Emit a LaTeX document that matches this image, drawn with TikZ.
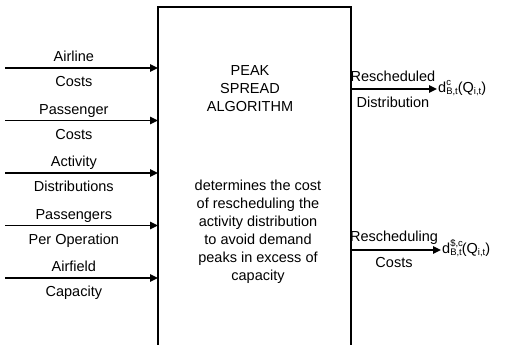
\documentclass[tikz,border=0pt]{standalone}
\usepackage{amsmath}
\usepackage{fontspec}
\setmainfont{Liberation Sans}
\usetikzlibrary{arrows.meta, positioning}
\tikzstyle{etiquette} = [font = \fontsize{14.5}{18}\selectfont, inner sep = 1pt, text height = 10.5pt, text depth = 3.5pt]
\tikzstyle{bloc} = [font = \fontsize{14.5}{18}\selectfont, inner sep = 0pt, align = center]
\tikzstyle{fleche} = [line width = 1.6pt, -{Triangle[length = 8pt, width = 7.5pt]}]
\newcommand{\indices}[2]{\rlap{\raisebox{7.5pt}{\fontsize{9.5}{10}\selectfont #1}}\raisebox{-2pt}{\fontsize{9.5}{10}\selectfont #2}}

\begin{document}
\begin{tikzpicture}[x = 1pt, y = -1pt]
\useasboundingbox (0,0) rectangle (512,345);

% la boite
\coordinate (bg) at (158,345);
\coordinate (hg) at (158,7);
\coordinate (hd) at (351,7);
\coordinate (bd) at (351,345);
\draw[line width = 1.6pt] (bg) -- (hg) -- (hd) -- (bd);

\node (titre) [bloc] at (250,89) {PEAK\\SPREAD\\ALGORITHM};
\node (texte) [bloc] at (258,232) {determines the cost\\of rescheduling the\\activity distribution\\to avoid demand\\peaks in excess of\\capacity};

% entrees
\coordinate (e1) at (5,68);
\coordinate (e2) at (5,120.5);
\coordinate (e3) at (5,173);
\coordinate (e4) at (5,225.5);
\coordinate (e5) at (5,278);

\draw[fleche] (e1) -- (e1 -| hg) coordinate[pos = 0.45] (m1);
\draw[fleche] (e2) -- (e2 -| hg) coordinate[pos = 0.45] (m2);
\draw[fleche] (e3) -- (e3 -| hg) coordinate[pos = 0.45] (m3);
\draw[fleche] (e4) -- (e4 -| hg) coordinate[pos = 0.45] (m4);
\draw[fleche] (e5) -- (e5 -| hg) coordinate[pos = 0.45] (m5);

\node (e1h) [etiquette, above = 1.5pt of m1] {Airline};
\node (e1b) [etiquette, below = 7pt of m1] {Costs};
\node (e2h) [etiquette, above = 1.5pt of m2] {Passenger};
\node (e2b) [etiquette, below = 7pt of m2] {Costs};
\node (e3h) [etiquette, above = 1.5pt of m3] {Activity};
\node (e3b) [etiquette, below = 7pt of m3] {Distributions};
\node (e4h) [etiquette, above = 1.5pt of m4] {Passengers};
\node (e4b) [etiquette, below = 7pt of m4] {Per Operation};
\node (e5h) [etiquette, above = 1.5pt of m5] {Airfield};
\node (e5b) [etiquette, below = 7pt of m5] {Capacity};

% sorties
\coordinate (s1) at (437,89);
\coordinate (s2) at (441,250);
\coordinate (n1) at (393,89);
\coordinate (n2) at (394,250);

\draw[fleche] (s1 -| hd) -- (s1);
\draw[fleche] (s2 -| hd) -- (s2);

\node (s1h) [etiquette, above = 3pt of n1] {Rescheduled};
\node (s1b) [etiquette, below = 7pt of n1] {Distribution};
\node (s2h) [etiquette, above = 4pt of n2] {Rescheduling};
\node (s2b) [etiquette, below = 6pt of n2] {Costs};

\node (d1) [etiquette, anchor = west] at (s1) {d\indices{c}{B,t}(Q\raisebox{-2pt}{\fontsize{9.5}{10}\selectfont i,t})};
\node (d2) [etiquette, anchor = west] at (s2) {d\indices{\$,c}{B,t}(Q\raisebox{-2pt}{\fontsize{9.5}{10}\selectfont i,t})};
\end{tikzpicture}
\end{document}
